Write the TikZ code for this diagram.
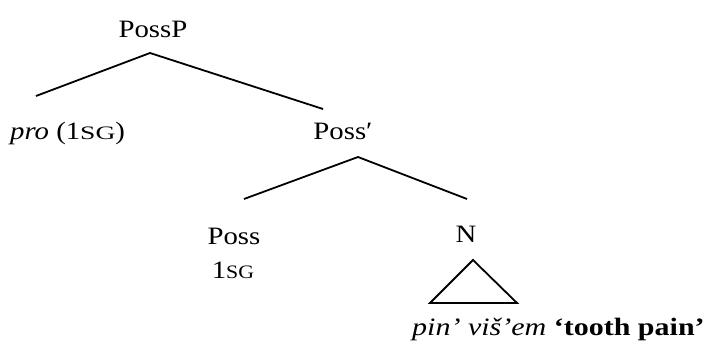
\documentclass[tikz,border=0pt]{standalone}
\usepackage{fontspec}
\setmainfont[FakeStretch=1.15]{Liberation Serif}
\newfontfamily\scwide[FakeStretch=1.45]{Liberation Serif}
\newfontfamily\scnarrow[FakeStretch=1.15]{Liberation Serif}
\newfontfamily\glossfont[FakeStretch=1.2]{Liberation Serif}
\newcommand{\sgwide}{{\scwide\fontsize{19}{21}\selectfont SG}}
\newcommand{\sgnarrow}{{\scnarrow\fontsize{19}{21}\selectfont SG}}
\begin{document}
\begin{tikzpicture}[x=1pt,y=-1pt,
  lbl/.style={inner sep=0pt, anchor=base, font=\fontsize{25}{29}\selectfont},
  branch/.style={line width=1.8pt, line join=miter}]
\useasboundingbox[fill=white] (0,0) rectangle (708,352);
\node[lbl] (possp) at (153,38) {PossP};
\node[lbl, anchor=base west] (pro) at (10,140) {\textit{pro} (1\sgwide)};
\node[lbl] (possbar) at (343,140) {Poss′};
\node[lbl] (poss) at (234,244) {Poss};
\node[lbl] (sg) at (233,278) {1\sgnarrow};
\node[lbl] (n) at (466,243) {N};
\node[lbl, anchor=base west, font=\glossfont\fontsize{25}{29}\selectfont] (gloss) at (412,335) {\textit{pin’ viš’em} \textbf{‘tooth pain’}};
\coordinate (a1) at (150,53);
\coordinate (l1) at (36,96);
\coordinate (r1) at (323,109);
\coordinate (a2) at (358,157);
\coordinate (l2) at (244,199);
\coordinate (r2) at (467,199);
\coordinate (t1) at (473,260);
\coordinate (t2) at (430,303);
\coordinate (t3) at (517,303);
\draw[branch] (l1) -- (a1) -- (r1);
\draw[branch] (l2) -- (a2) -- (r2);
\draw[branch] (t1) -- (t2) -- (t3) -- cycle;
\end{tikzpicture}
\end{document}
